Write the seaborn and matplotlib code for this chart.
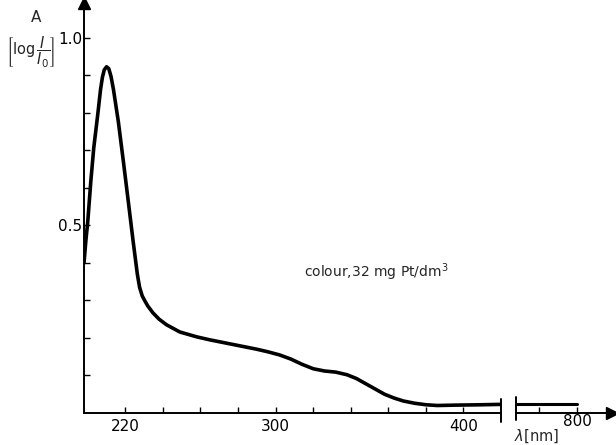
import matplotlib
matplotlib.use("Agg")
import matplotlib.pyplot as plt
import seaborn as sns
import pandas as pd

# ---- data ----
wavelength_nm = [198, 199, 200, 201.6, 203.2, 205.3, 206.8, 207.8, 208.8, 210, 211.2, 212.4,
                 213.7, 216.3, 219, 221.6, 224.2, 226.4, 227.6, 229, 230.5, 232, 234.7, 238,
                 242, 249, 258, 265, 272, 279, 285, 290, 296, 302, 308, 314, 320, 326, 332,
                 338, 343, 348, 353, 358, 363, 368, 374, 380, 386, 396, 410, 420]
absorbance = [0.40, 0.46, 0.51, 0.616, 0.707, 0.795, 0.862, 0.895, 0.915, 0.923, 0.918, 0.897,
              0.862, 0.776, 0.669, 0.563, 0.456, 0.37, 0.335, 0.312, 0.298, 0.285, 0.267, 0.25,
              0.235, 0.216, 0.203, 0.195, 0.188, 0.181, 0.175, 0.170, 0.163, 0.155, 0.144,
              0.130, 0.118, 0.112, 0.109, 0.102, 0.092, 0.078, 0.064, 0.050, 0.040, 0.032,
              0.026, 0.022, 0.020, 0.021, 0.022, 0.023]
wavelength_far_nm = [768, 800]
absorbance_far = [0.024, 0.024]

x_ticks_left = [220, 240, 260, 280, 300, 320, 340, 360, 380, 400]
x_labels_left = ["220", "", "", "", "300", "", "", "", "", "400"]
x_ticks_right = [780, 800]
x_labels_right = ["", "800"]
y_ticks = [0.1, 0.2, 0.3, 0.4, 0.5, 0.6, 0.7, 0.8, 0.9, 1.0]
y_labels = ["", "", "", "", "0.5", "", "", "", "", "1.0"]
annotation = "colour,32 mg Pt/dm$^3$"

sns.set_style("white")
plt.rcParams['font.family'] = ['DejaVu Sans']

W, H = 616, 445
fig = plt.figure(figsize=(W / 100, H / 100), dpi=100)

def fx(px):
    return px / W

def fy(py):
    return 1 - py / H

ax = fig.add_axes([fx(84), fy(413), fx(501) - fx(84), fy(3) - fy(413)])
ax2 = fig.add_axes([fx(516), fy(413), fx(612) - fx(516), fy(3) - fy(413)])

df = pd.DataFrame({"nm": wavelength_nm, "A": absorbance})
df2 = pd.DataFrame({"nm": wavelength_far_nm, "A": absorbance_far})
sns.lineplot(data=df, x="nm", y="A", ax=ax, color="black", lw=2.6, sort=False,
             solid_joinstyle="round", solid_capstyle="round")
sns.lineplot(data=df2, x="nm", y="A", ax=ax2, color="black", lw=2.2, sort=False)

ax.set_xlim(198, 420)
ax.set_ylim(0, 1.093)
ax2.set_xlim(768, 818)
ax2.set_ylim(0, 1.093)

for a in (ax, ax2):
    for s in a.spines.values():
        s.set_visible(False)
    a.spines['bottom'].set_visible(True)
    a.spines['bottom'].set_linewidth(1.4)
    a.spines['bottom'].set_color("black")
    a.set_xlabel("")
    a.set_ylabel("")
    a.patch.set_alpha(0)

ax.spines['left'].set_visible(True)
ax.spines['left'].set_linewidth(1.4)
ax.spines['left'].set_color("black")

ax.set_xticks(x_ticks_left)
ax.set_xticklabels(x_labels_left)
ax2.set_xticks(x_ticks_right)
ax2.set_xticklabels(x_labels_right)
ax.set_yticks(y_ticks)
ax.set_yticklabels(y_labels)
ax2.set_yticks([])

ax.tick_params(axis='x', direction='in', length=4, width=1.0, pad=4,
               labelsize=11, colors="black", bottom=True)
ax2.tick_params(axis='x', direction='in', length=4, width=1.0, pad=1,
                labelsize=11, colors="black", bottom=True)
ax.tick_params(axis='y', direction='in', length=4, width=1.0, pad=1,
               labelsize=11, colors="black", left=True)

# axis arrows
ax.plot([0], [1.0], marker="^", markersize=8, color="black",
        transform=ax.transAxes, clip_on=False)
ax2.plot([1.0], [0], marker=">", markersize=8, color="black",
         transform=ax2.transAxes, clip_on=False)

# break marks
ax.plot([1, 1], [-0.022, 0.035], color="black", lw=1.4,
        transform=ax.transAxes, clip_on=False)
ax2.plot([0, 0], [-0.018, 0.04], color="black", lw=1.4,
         transform=ax2.transAxes, clip_on=False)

# annotation
ax.text(315, 0.376, annotation, fontsize=10, va="center", ha="left")

# axis titles
fig.text(fx(36), fy(17), "A", fontsize=11, ha="center", va="center")
fig.text(fx(31), fy(52), r"$\left[\log\dfrac{I}{I_0}\right]$", fontsize=10.5,
         ha="center", va="center")
fig.text(fx(537), fy(436), r"$\lambda$[nm]", fontsize=10.5, ha="center", va="center")

fig.savefig("out.png", dpi=100)
